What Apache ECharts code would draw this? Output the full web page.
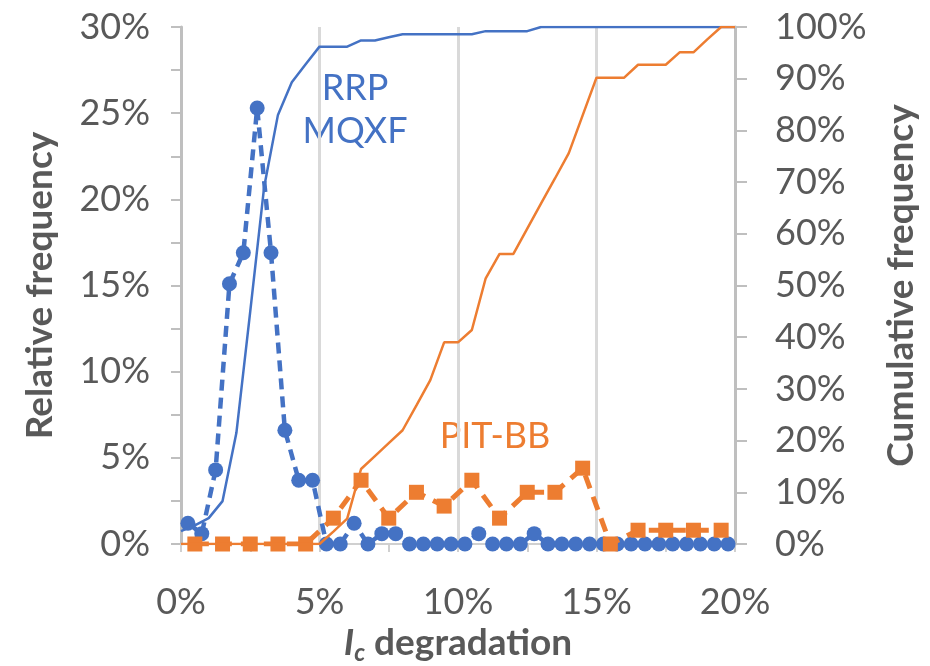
<!DOCTYPE html>
<html>
<head>
<meta charset="utf-8">
<script src="https://cdn.jsdelivr.net/npm/echarts@6/dist/echarts.min.js"></script>
<style>
  html, body { margin: 0; padding: 0; background: #ffffff; overflow: hidden; }
  #chart { width: 930px; height: 666px; }
</style>
</head>
<body>
<div id="chart"></div>
<script>
// Bin centres for the RRP MQXF relative frequency (%)
const rrpX = [0.25, 0.75, 1.25, 1.75, 2.25, 2.75, 3.25, 3.75, 4.25, 4.75,
              5.25, 5.75, 6.25, 6.75, 7.25, 7.75, 8.25, 8.75, 9.25, 9.75,
              10.25, 10.75, 11.25, 11.75, 12.25, 12.75, 13.25, 13.75, 14.25, 14.75,
              15.25, 15.75, 16.25, 16.75, 17.25, 17.75, 18.25, 18.75, 19.25, 19.75];
const rrpFreq = [1.2, 0.6, 4.3, 15.1, 16.9, 25.3, 16.9, 6.6, 3.7, 3.7,
                 0, 0, 1.2, 0, 0.6, 0.6, 0, 0, 0, 0,
                 0, 0.6, 0, 0, 0, 0.6, 0, 0, 0, 0,
                 0, 0, 0, 0, 0, 0, 0, 0, 0, 0];

// Bin centres for the PIT-BB relative frequency (%)
const pitX = [0.5, 1.5, 2.5, 3.5, 4.5, 5.5, 6.5, 7.5, 8.5, 9.5,
              10.5, 11.5, 12.5, 13.5, 14.5, 15.5, 16.5, 17.5, 18.5, 19.5];
const pitFreq = [0, 0, 0, 0, 0, 1.5, 3.7, 1.5, 3.0, 2.2,
                 3.7, 1.5, 3.0, 3.0, 4.4, 0, 0.8, 0.8, 0.8, 0.8];

// Cumulative frequency (%) points
const cumX = [0, 0.5, 1, 1.5, 2, 2.5, 3, 3.5, 4, 4.5,
              5, 5.5, 6, 6.5, 7, 7.5, 8, 8.5, 9, 9.5,
              10, 10.5, 11, 11.5, 12, 12.5, 13, 13.5, 14, 14.5,
              15, 15.5, 16, 16.5, 17, 17.5, 18, 18.5, 19, 19.5, 20];
const rrpCum = [2.5, 3.6, 5.0, 8.3, 21.5, 45, 69, 83, 89.3, 92.8,
                96.2, 96.2, 96.2, 97.4, 97.4, 98.0, 98.6, 98.6, 98.6, 98.6,
                98.6, 98.6, 99.2, 99.2, 99.2, 99.2, 100, 100, 100, 100,
                100, 100, 100, 100, 100, 100, 100, 100, 100, 100, 100];
const pitCum = [0, 0, 0, 0, 0, 0, 0, 0, 0, 0,
                0, 2.4, 4.9, 14.5, 17.0, 19.5, 22.0, 26.8, 31.7, 39.0,
                39.0, 41.4, 51.4, 56.1, 56.1, 61.0, 65.9, 70.7, 75.6, 82.9,
                90.2, 90.2, 90.2, 92.7, 92.7, 92.7, 95.1, 95.1, 97.6, 100, 100];

// Tick labels
const xTicks = [0, 5, 10, 15, 20];
const leftTicks = [0, 5, 10, 15, 20, 25, 30];
const rightTicks = [0, 10, 20, 30, 40, 50, 60, 70, 80, 90, 100];

const BLUE = '#4472C4';
const ORANGE = '#ED7D31';
const TXT = '#595959';
const FONT = 'Lato';
const TICK_FS = 36;
const NAME_FS = 37;

const pairs = (xs, ys) => xs.map((x, i) => [x, ys[i]]);

const chart = echarts.init(document.getElementById('chart'), null, { renderer: 'canvas' });

const option = {
  backgroundColor: '#ffffff',
  animation: false,
  textStyle: { fontFamily: FONT, color: TXT },
  grid: { left: 181, right: 195, top: 27, bottom: 122, containLabel: false, outerBoundsMode: 'none' },
  xAxis: {
    type: 'value', min: xTicks[0], max: xTicks[xTicks.length - 1], interval: 5,
    name: '{i|I}{s|c}{n| degradation}',
    nameLocation: 'middle', nameGap: 76,
    nameTextStyle: {
      rich: {
        i: { fontFamily: FONT, fontSize: NAME_FS, fontWeight: 'bold', fontStyle: 'italic', color: TXT, lineHeight: 44 },
        s: { fontFamily: FONT, fontSize: 24, fontWeight: 'bold', fontStyle: 'italic', color: TXT, verticalAlign: 'bottom', lineHeight: 24 },
        n: { fontFamily: FONT, fontSize: NAME_FS, fontWeight: 'bold', color: TXT, lineHeight: 44 }
      }
    },
    axisLine: { show: true, lineStyle: { color: '#d0d0d0', width: 2 } },
    axisTick: { show: true, length: 8, lineStyle: { color: '#d0d0d0', width: 2 } },
    minorTick: { show: true, splitNumber: 2, length: 8, lineStyle: { color: '#d0d0d0', width: 2 } },
    axisLabel: { margin: 40, fontSize: TICK_FS, color: TXT, fontFamily: FONT, formatter: v => v + '%' },
    splitLine: { show: true, lineStyle: { color: '#d9d9d9', width: 3 } }
  },
  yAxis: [
    {
      type: 'value', min: leftTicks[0], max: leftTicks[leftTicks.length - 1], interval: 5,
      name: 'Relative frequency', nameLocation: 'middle', nameGap: 122, nameRotate: 90,
      nameTextStyle: { fontFamily: FONT, fontSize: NAME_FS, fontWeight: 'bold', color: TXT },
      axisLine: { show: true, lineStyle: { color: '#bfbfbf', width: 3 } },
      axisTick: { show: true, length: 10, lineStyle: { color: '#bfbfbf', width: 2 } },
      minorTick: { show: true, splitNumber: 2, length: 10, lineStyle: { color: '#bfbfbf', width: 2 } },
      axisLabel: { margin: 31, fontSize: TICK_FS, color: TXT, fontFamily: FONT, formatter: v => v + '%' },
      splitLine: { show: false }
    },
    {
      type: 'value', position: 'right', min: rightTicks[0], max: rightTicks[rightTicks.length - 1], interval: 10,
      name: 'Cumulative frequency', nameLocation: 'middle', nameGap: 148, nameRotate: 90,
      nameTextStyle: { fontFamily: FONT, fontSize: NAME_FS, fontWeight: 'bold', color: TXT },
      axisLine: { show: true, lineStyle: { color: '#bfbfbf', width: 3 } },
      axisTick: { show: true, length: 12, lineStyle: { color: '#bfbfbf', width: 2 } },
      axisLabel: { margin: 40, fontSize: TICK_FS, color: TXT, fontFamily: FONT, formatter: v => v + '%' },
      splitLine: { show: false }
    }
  ],
  series: [
    {
      name: 'RRP freq', type: 'line', yAxisIndex: 0,
      data: pairs(rrpX, rrpFreq),
      symbol: 'circle', symbolSize: 15,
      itemStyle: { color: BLUE },
      lineStyle: { color: BLUE, width: 4.5, type: [11, 7] },
      z: 3
    },
    {
      name: 'PIT freq', type: 'line', yAxisIndex: 0,
      data: pairs(pitX, pitFreq),
      symbol: 'rect', symbolSize: 15,
      itemStyle: { color: ORANGE },
      lineStyle: { color: ORANGE, width: 5, type: [14, 9] },
      z: 4
    },
    {
      name: 'RRP cum', type: 'line', yAxisIndex: 1,
      data: pairs(cumX, rrpCum),
      symbol: 'none',
      lineStyle: { color: BLUE, width: 2.5 },
      z: 5
    },
    {
      name: 'PIT cum', type: 'line', yAxisIndex: 1,
      data: pairs(cumX, pitCum),
      symbol: 'none',
      lineStyle: { color: ORANGE, width: 2.5 },
      z: 6
    }
  ],
  graphic: [
    { type: 'text', x: 355, y: 88, style: { text: 'RRP', font: '36px Lato', fill: BLUE, align: 'center', verticalAlign: 'middle' } },
    { type: 'text', x: 355, y: 131, style: { text: 'MQXF', font: '36px Lato', fill: BLUE, align: 'center', verticalAlign: 'middle' } },
    { type: 'text', x: 495, y: 436, style: { text: 'PIT-BB', font: '36px Lato', fill: ORANGE, align: 'center', verticalAlign: 'middle' } }
  ]
};

chart.setOption(option);
</script>
</body>
</html>
